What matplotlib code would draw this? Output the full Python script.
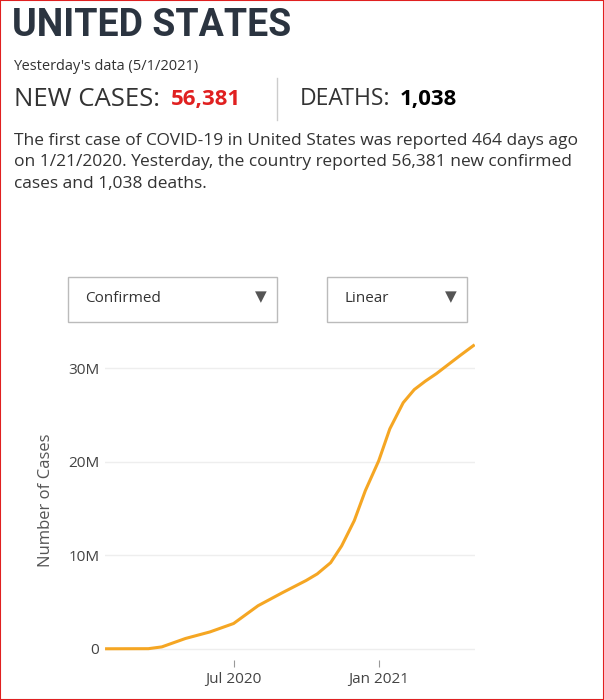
import matplotlib

matplotlib.use("Agg")
import matplotlib.pyplot as plt
import matplotlib.dates as mdates
from matplotlib.patches import Rectangle
import numpy as np

plt.rcParams["font.family"] = "Open Sans"

DATES = [
    "2020-01-22", "2020-03-15", "2020-04-01", "2020-05-01", "2020-06-01",
    "2020-07-01", "2020-08-01", "2020-09-01", "2020-10-01", "2020-10-15",
    "2020-11-01", "2020-11-15", "2020-12-01", "2020-12-15", "2021-01-01",
    "2021-01-15", "2021-02-01", "2021-02-15", "2021-03-01", "2021-03-15",
    "2021-04-01", "2021-04-15", "2021-05-01",
]
CASES_M = [
    0.0, 0.01, 0.2, 1.1, 1.8,
    2.7, 4.6, 6.0, 7.3, 8.0,
    9.2, 11.0, 13.7, 16.9, 20.1,
    23.5, 26.3, 27.7, 28.6, 29.4,
    30.5, 31.4, 32.4,
]
Y_TICKS = [0, 10, 20, 30]
Y_LABELS = ["0", "10M", "20M", "30M"]

W, H = 604, 700
fig = plt.figure(figsize=(W / 100, H / 100), dpi=100)


def fx(px):
    return px / W


def fy(py):
    return 1 - py / H


fig.patches.append(Rectangle((0, 0), 1, 1, transform=fig.transFigure, fill=False,
                             edgecolor="#e02020", linewidth=1.5))

fig.text(fx(12), fy(25), "UNITED STATES", fontsize=27, fontweight="bold",
         color="#2b3440", va="center", family="Roboto")
fig.text(fx(14), fy(66), "Yesterday's data (5/1/2021)", fontsize=10.5, color="#333", va="center")
fig.text(fx(14), fy(99), "NEW CASES:", fontsize=18.5, color="#333", va="center")
fig.text(fx(171), fy(99), "56,381", fontsize=16, color="#e02020", fontweight="bold", va="center")
fig.lines.append(plt.Line2D([fx(277), fx(277)], [fy(78), fy(120)], transform=fig.transFigure,
                            color="#ccc", linewidth=1))
fig.text(fx(300), fy(99), "DEATHS:", fontsize=16.5, color="#333", va="center")
fig.text(fx(400), fy(99), "1,038", fontsize=16, color="black", fontweight="bold", va="center")
para = ("The first case of COVID-19 in United States was reported 464 days ago\n"
        "on 1/21/2020. Yesterday, the country reported 56,381 new confirmed\n"
        "cases and 1,038 deaths.")
fig.text(fx(14), fy(133), para, fontsize=12.5, color="#333", va="top", linespacing=1.45)

for x0, x1, label in [(68, 277, "Confirmed"), (327, 467, "Linear")]:
    fig.patches.append(Rectangle((fx(x0), fy(322)), fx(x1 - x0), (322 - 277) / H,
                                 transform=fig.transFigure, fill=False,
                                 edgecolor="#bbb", linewidth=1))
    fig.text(fx(x0 + 17), fy(299), label, fontsize=11, color="#333", va="center")
    fig.text(fx(x1 - 22), fy(297), "\u25BC", fontsize=11, color="#555", va="center",
             family="DejaVu Sans")

ax = fig.add_axes([fx(105), fy(660), fx(370), (660 - 340) / H])
dates = np.array(DATES, dtype="datetime64[D]")
ax.plot(dates, CASES_M, color="#f5a623", linewidth=2.2)
ax.set_ylim(-1.2, 33)
ax.set_xlim(np.datetime64("2020-01-20"), np.datetime64("2021-05-03"))
ax.set_yticks(Y_TICKS)
ax.set_yticklabels(Y_LABELS)
ax.yaxis.grid(True, color="#eee", linewidth=1)
ax.set_axisbelow(True)
ax.tick_params(axis="y", length=0, labelsize=11, colors="#444", pad=4)
ax.set_xticks([np.datetime64("2020-07-01"), np.datetime64("2021-01-01")])
ax.xaxis.set_major_formatter(mdates.DateFormatter("%b %Y"))
ax.tick_params(axis="x", length=5, color="#999", labelsize=11, colors="#444")
for s in ["top", "right", "left", "bottom"]:
    ax.spines[s].set_visible(False)
ax.set_ylabel("Number of Cases", fontsize=12, color="#555", labelpad=10)

fig.savefig("out.png", dpi=100)
